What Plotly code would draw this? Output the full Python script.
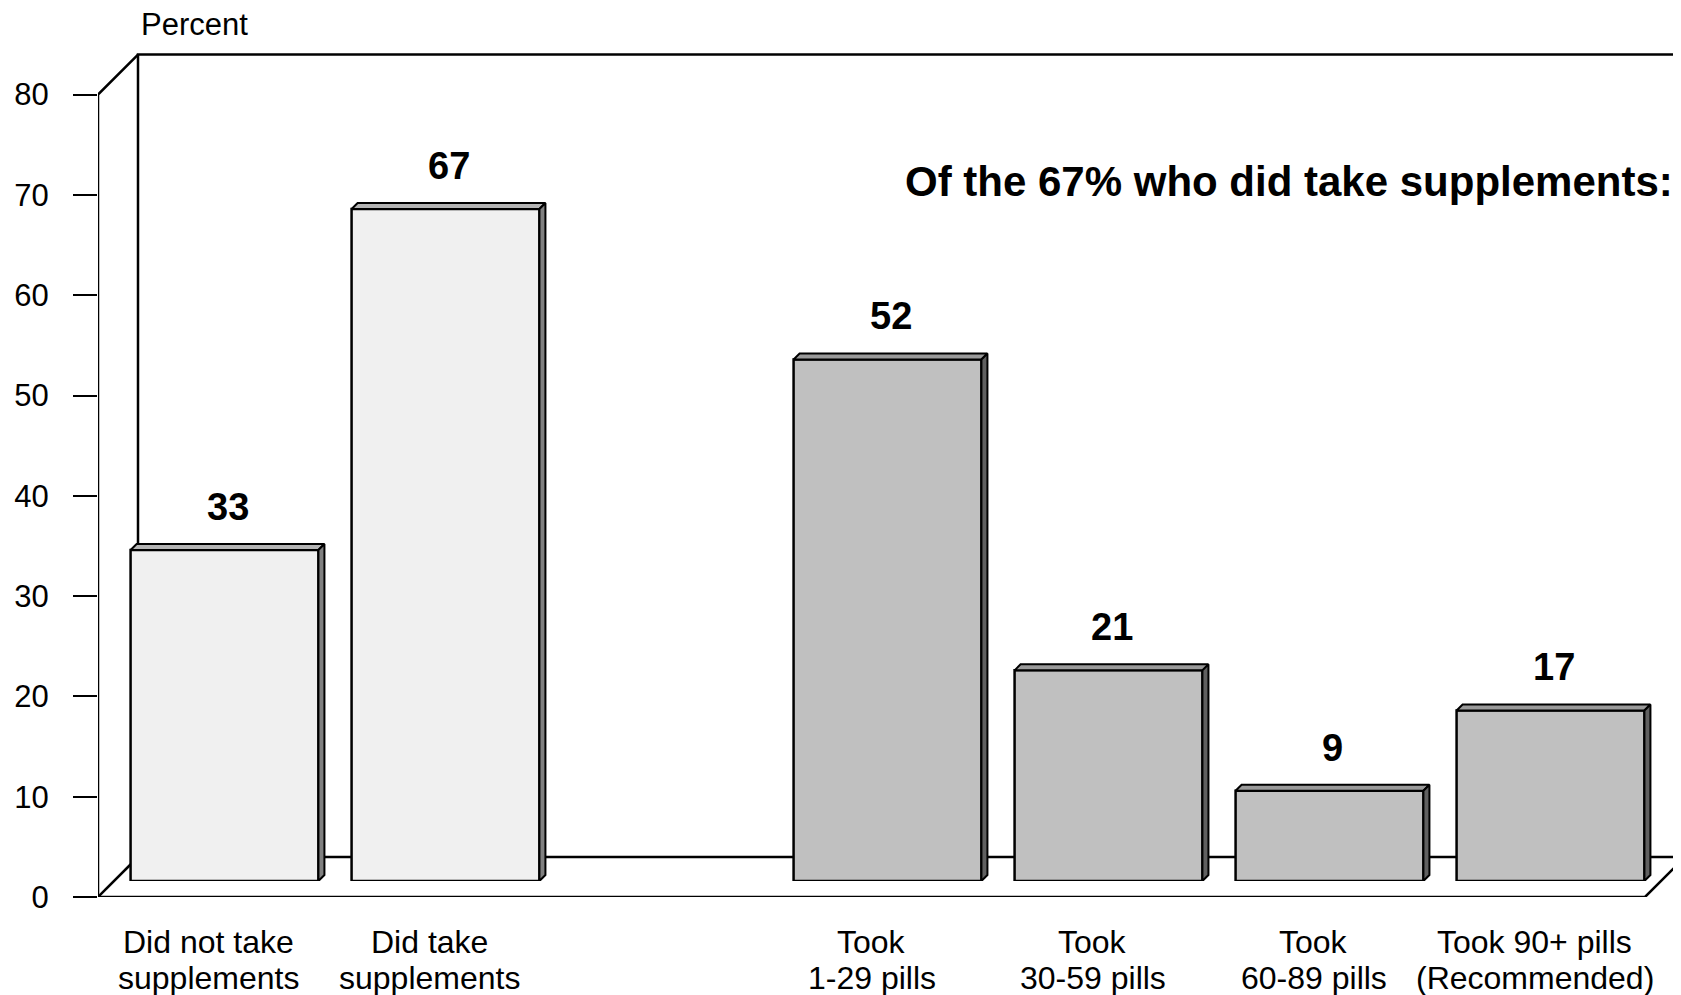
import plotly.graph_objects as go

# values
left_labels = ["Did not take<br>supplements", "Did take<br>supplements"]
left_values = [33, 67]
right_labels = ["Took<br>1-29 pills", "Took<br>30-59 pills", "Took<br>60-89 pills", "Took 90+ pills<br>(Recommended)"]
right_values = [52, 21, 9, 17]
y_ticks = [0, 10, 20, 30, 40, 50, 60, 70, 80]
y_title = "Percent"
note = "Of the 67% who did take supplements:"

W, H = 1681, 995
OFF = 8            # the page body margin moves the figure by this much
FONT = "Liberation Sans, Arial, sans-serif"

# geometry of the fake 3-D box (screen pixels)
left_px = 98       # front y axis
zero_px = 897      # y pixel of 0 on the front plane
slot_px = 221      # width of one category slot
unit_px = 10.03    # pixels per percent
depth_px = 40      # depth of the walls
bar_shift = 16     # bars stand this far back in the box
bar_thick = 6      # 3-D thickness of the bars
bar_width = 0.85


def px(x):
    return (x - OFF) / W


def py(y):
    return 1 - (y - OFF) / H


n_left = len(left_values)
pos = list(range(n_left)) + [n_left + 1 + i for i in range(len(right_values))]
labels = left_labels + right_labels
values = left_values + right_values
front_col = ["#f0f0f0"] * n_left + ["#c0c0c0"] * len(right_values)
top_col = ["#b4b4b4"] * n_left + ["#9a9a9a"] * len(right_values)
side_col = ["#808080"] * n_left + ["#606060"] * len(right_values)
n_slots = pos[-1] + 1
y_max = y_ticks[-1]

fig = go.Figure()

# box walls and floor
dx = depth_px / slot_px
dy = depth_px / unit_px
x_lo, x_hi = -0.5, n_slots - 0.5
box_x = [x_lo + dx, x_lo + dx, x_hi + dx, x_hi + dx, x_lo + dx, None,
         x_lo + dx, x_lo, x_lo, x_hi, x_hi + dx, None,
         x_lo, x_lo + dx]
box_y = [dy, y_max + dy, y_max + dy, dy, dy, None,
         y_max + dy, y_max, 0, 0, dy, None,
         0, dy]
fig.add_trace(go.Scatter(x=box_x, y=box_y, mode="lines", line=dict(color="black", width=2.5),
                         cliponaxis=False, hoverinfo="skip", xaxis="x", yaxis="y"))

# category labels, one annotation per line so the line spacing stays tight
for p, lab in zip(pos, labels):
    for k, line in enumerate(lab.split("<br>")):
        fig.add_annotation(x=p, y=0, xref="x", yref="y", text=line, showarrow=False,
                           yanchor="top", yshift=-25 - 36 * k,
                           font=dict(family=FONT, size=32, color="black"))

# bars
fig.add_trace(go.Bar(x=pos, y=values, width=bar_width, cliponaxis=False,
                     marker=dict(color=front_col, line=dict(color="black", width=2.5)),
                     xaxis="x2", yaxis="y2"))

tx = bar_thick / slot_px
ty = bar_thick / unit_px
hw = bar_width / 2
for p, v, tc, sc in zip(pos, values, top_col, side_col):
    fig.add_trace(go.Scatter(
        x=[p - hw, p - hw + tx, p + hw + tx, p + hw, p - hw],
        y=[v, v + ty, v + ty, v, v],
        mode="lines", fill="toself", fillcolor=tc, line=dict(color="black", width=2),
        cliponaxis=False, hoverinfo="skip", xaxis="x2", yaxis="y2"))
    fig.add_trace(go.Scatter(
        x=[p + hw, p + hw, p + hw + tx, p + hw + tx, p + hw],
        y=[0, v, v + ty, ty, 0],
        mode="lines", fill="toself", fillcolor=sc, line=dict(color="black", width=2),
        cliponaxis=False, hoverinfo="skip", xaxis="x2", yaxis="y2"))
    fig.add_annotation(x=p + tx / 2, y=v + ty, xref="x2", yref="y2", text="<b>%d</b>" % v,
                       showarrow=False, yanchor="bottom", yshift=14,
                       font=dict(family=FONT, size=38, color="black"))

fig.add_annotation(x=px(139), y=py(44), xref="paper", yref="paper", text=y_title,
                   showarrow=False, xanchor="left", yanchor="bottom",
                   font=dict(family=FONT, size=31, color="black"))
fig.add_annotation(x=px(1675), y=py(207), xref="paper", yref="paper", text="<b>%s</b>" % note,
                   showarrow=False, xanchor="right", yanchor="bottom",
                   font=dict(family=FONT, size=42, color="black"))

fig.update_layout(
    width=W, height=H,
    margin=dict(l=0, r=0, t=0, b=0, autoexpand=False),
    paper_bgcolor="white", plot_bgcolor="rgba(0,0,0,0)",
    showlegend=False,
    font=dict(family=FONT, color="black"),
    xaxis=dict(domain=[px(left_px), 1], range=[x_lo, x_lo + (W + OFF - left_px) / slot_px],
               showticklabels=False, ticks="", showgrid=False, zeroline=False,
               showline=False, automargin=False),
    yaxis=dict(domain=[py(zero_px), 1], range=[0, (zero_px - OFF) / unit_px],
               tickvals=y_ticks, ticks="outside", ticklen=24, tickwidth=1.5, tickcolor="black",
               showgrid=False, zeroline=False, showline=False, ticklabelstandoff=18,
               tickfont=dict(size=31), automargin=False),
    xaxis2=dict(domain=[px(left_px + bar_shift), 1],
                range=[x_lo, x_lo + (W + OFF - left_px - bar_shift) / slot_px], visible=False),
    yaxis2=dict(domain=[py(zero_px - bar_shift), 1],
                range=[0, (zero_px - bar_shift - OFF) / unit_px], visible=False, anchor="x2"),
)

fig.write_html("out.html")
